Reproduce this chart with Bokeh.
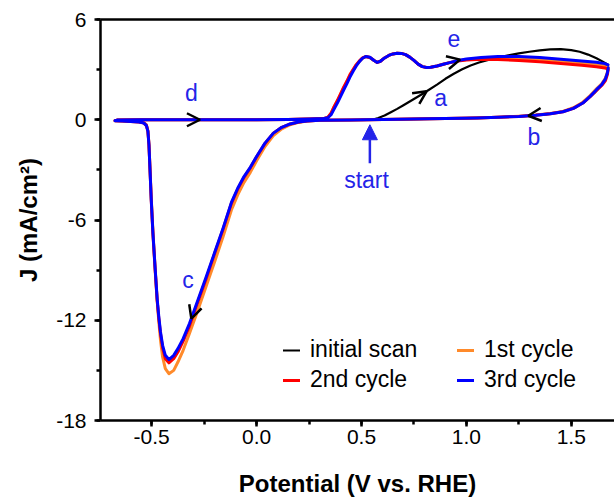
from bokeh.plotting import figure
from bokeh.models import (ColumnDataSource, Range1d, SingleIntervalTicker, FixedTicker,
                          LinearAxis, PrintfTickFormatter, Legend, LegendItem, Arrow,
                          OpenHead, NormalHead)
from bokeh.core.properties import value
from bokeh.embed import file_html
from bokeh.resources import INLINE

FONT = "Liberation Sans"
LABEL_BLUE = "#2424e8"

# ---- cyclic voltammetry data: potential (V vs. RHE) and current density (mA/cm2) ----
# initial scan: from the open-circuit start point up to the anodic vertex and back
initial_v = [0.55, 0.58, 0.61, 0.64, 0.67, 0.70, 0.74, 0.78, 0.82, 0.86, 0.90, 0.94, 0.98,
             1.02, 1.06, 1.10, 1.15, 1.20, 1.25, 1.30, 1.35, 1.40, 1.45, 1.50, 1.54, 1.58,
             1.62, 1.65, 1.675, 1.672, 1.66, 1.64, 1.61, 1.57, 1.52, 1.46, 1.38, 1.28, 1.15,
             1.0, 0.8, 0.6, 0.5]
initial_j = [0.0, 0.1, 0.25, 0.45, 0.65, 0.87, 1.17, 1.47, 1.78, 2.1, 2.45, 2.75, 3.02,
             3.25, 3.43, 3.57, 3.72, 3.85, 3.97, 4.07, 4.15, 4.21, 4.23, 4.17, 4.07, 3.9,
             3.68, 3.48, 3.3, 2.8, 2.4, 2.0, 1.6, 1.15, 0.75, 0.48, 0.33, 0.23, 0.15,
             0.1, 0.05, 0.01, 0.0]

# potentials of the full cycles: cathodic sweep from the upper vertex, then anodic sweep
cycle_v = [1.676, 1.672, 1.663, 1.645, 1.62, 1.59, 1.555, 1.51, 1.46, 1.40, 1.33, 1.25,
           1.15, 1.05, 0.90, 0.75, 0.60, 0.45,
           0.30, 0.24, 0.20, 0.16, 0.12, 0.08, 0.04, 0.00, -0.03, -0.06, -0.09, -0.12,
           -0.16, -0.20, -0.24, -0.28, -0.32,
           -0.35, -0.375, -0.395, -0.418, -0.435, -0.448, -0.458, -0.466, -0.474, -0.484,
           -0.494, -0.502, -0.508, -0.513,
           -0.518, -0.525, -0.537, -0.56, -0.60, -0.64, -0.675,
           -0.665, -0.55, -0.40, -0.20, 0.0, 0.15, 0.25, 0.32, 0.34, 0.355, 0.37, 0.385,
           0.40, 0.415, 0.43, 0.445, 0.46, 0.475, 0.49, 0.505, 0.52, 0.54, 0.56, 0.575,
           0.59, 0.61, 0.63, 0.65, 0.67, 0.69, 0.71, 0.73, 0.75, 0.77, 0.79, 0.81, 0.83,
           0.86, 0.89, 0.92, 0.96, 1.00, 1.07, 1.15, 1.25, 1.35, 1.45, 1.55, 1.62, 1.66,
           1.675]

cycle1_j = [3.15, 2.85, 2.5, 2.15, 1.85, 1.45, 1.05, 0.72, 0.5, 0.37, 0.28, 0.21,
            0.15, 0.11, 0.07, 0.04, 0.01, -0.01,
            -0.03, -0.08, -0.16, -0.3, -0.55, -0.95, -1.6, -2.45, -3.15, -3.75, -4.5, -5.4,
            -7.0, -8.5, -9.95, -11.4, -12.8,
            -13.8, -14.5, -15.0, -15.2, -14.9, -14.2, -13.2, -12.1, -10.8, -8.8,
            -6.7, -4.7, -2.9, -1.5,
            -0.65, -0.3, -0.18, -0.12, -0.1, -0.08, -0.06,
            -0.02, 0.0, 0.0, 0.0, 0.0, 0.02, 0.04, 0.07, 0.14, 0.38, 0.78, 1.12,
            1.5, 1.9, 2.25, 2.65, 2.97, 3.27, 3.5, 3.69, 3.78, 3.73, 3.55, 3.43,
            3.5, 3.7, 3.85, 3.94, 3.98, 3.97, 3.9, 3.75, 3.55, 3.33, 3.18, 3.13, 3.14,
            3.22, 3.32, 3.42, 3.53, 3.6, 3.66, 3.7, 3.68, 3.62, 3.52, 3.4, 3.3, 3.22,
            3.15]

cycle2_j = [3.0, 2.7, 2.35, 2.05, 1.75, 1.38, 1.0, 0.68, 0.48, 0.36, 0.27, 0.2,
            0.15, 0.11, 0.07, 0.04, 0.01, -0.01,
            -0.03, -0.07, -0.13, -0.25, -0.45, -0.8, -1.42, -2.22, -2.88, -3.45, -4.15, -5.0,
            -6.55, -8.0, -9.5, -10.9, -12.35,
            -13.25, -13.9, -14.3, -14.55, -14.3, -13.65, -12.8, -11.9, -10.8, -8.9,
            -6.85, -4.85, -3.0, -1.5,
            -0.7, -0.35, -0.2, -0.13, -0.1, -0.08, -0.06,
            -0.02, 0.0, 0.0, 0.0, 0.0, 0.02, 0.04, 0.07, 0.15, 0.4, 0.8, 1.15,
            1.55, 1.95, 2.3, 2.7, 3.0, 3.3, 3.52, 3.7, 3.78, 3.73, 3.55, 3.43,
            3.5, 3.7, 3.85, 3.94, 3.98, 3.97, 3.9, 3.75, 3.55, 3.33, 3.18, 3.13, 3.14,
            3.22, 3.32, 3.42, 3.52, 3.58, 3.62, 3.6, 3.55, 3.47, 3.37, 3.26, 3.17, 3.1,
            3.03]

cycle3_j = [3.1, 2.8, 2.45, 2.1, 1.8, 1.4, 1.0, 0.68, 0.48, 0.36, 0.27, 0.2,
            0.15, 0.11, 0.07, 0.04, 0.01, -0.01,
            -0.03, -0.07, -0.13, -0.25, -0.45, -0.8, -1.4, -2.2, -2.85, -3.4, -4.1, -4.95,
            -6.5, -7.95, -9.4, -10.8, -12.2,
            -13.1, -13.7, -14.1, -14.35, -14.1, -13.5, -12.7, -11.8, -10.7, -8.8,
            -6.8, -4.8, -3.0, -1.5,
            -0.7, -0.35, -0.2, -0.13, -0.1, -0.08, -0.06,
            -0.02, 0.0, 0.0, 0.0, 0.0, 0.02, 0.04, 0.07, 0.12, 0.3, 0.65, 1.0,
            1.38, 1.78, 2.15, 2.55, 2.9, 3.22, 3.48, 3.68, 3.79, 3.74, 3.55, 3.43,
            3.5, 3.7, 3.85, 3.94, 3.98, 3.97, 3.9, 3.75, 3.55, 3.33, 3.18, 3.13, 3.14,
            3.22, 3.32, 3.42, 3.55, 3.63, 3.72, 3.78, 3.78, 3.72, 3.62, 3.52, 3.44, 3.36,
            3.28]

series_names = ["initial scan", "1st cycle", "2nd cycle", "3rd cycle"]
series_colors = ["#000000", "#ff8a2a", "#ff0000", "#0000ff"]

# scan-direction arrowheads (tail -> tip)
arrow_tail_v = [-0.35, 0.755, 0.91, 1.37, -0.29]
arrow_tail_j = [0.0, 1.24, 3.42, 0.33, -11.1]
arrow_tip_v = [-0.27, 0.81, 0.97, 1.295, -0.311]
arrow_tip_j = [0.0, 1.7, 3.6, 0.24, -11.9]

# sweep labels
label_txt = ["a", "b", "c", "d", "e", "start"]
label_v = [0.877, 1.322, -0.327, -0.311, 0.94, 0.524]
label_j = [1.28, -1.03, -9.62, 1.59, 4.86, -3.6]

# start marker arrow
start_v = 0.54
start_j_from = -2.6
start_j_to = -0.3

p = figure(width=614, height=500,
           x_range=Range1d(-0.744, 1.706), y_range=Range1d(-18, 6),
           output_backend="svg", toolbar_location=None,
           min_border_left=100, min_border_right=0, min_border_top=19, min_border_bottom=80,
           x_axis_label="Potential (V vs. RHE)", y_axis_label="J (mA/cm\u00b2)")
p.xgrid.visible = False
p.ygrid.visible = False
p.outline_line_color = None
p.background_fill_color = "white"
p.border_fill_color = "white"

p.xaxis.ticker = SingleIntervalTicker(interval=0.5, num_minor_ticks=2)
p.xaxis.formatter = PrintfTickFormatter(format="%.1f")
p.yaxis.ticker = SingleIntervalTicker(interval=6, num_minor_ticks=2)
p.yaxis.formatter = PrintfTickFormatter(format="%d")

for ax in (p.xaxis[0], p.yaxis[0]):
    ax.axis_line_width = 2.5
    ax.axis_line_color = "black"
    ax.major_tick_line_width = 2.5
    ax.minor_tick_line_width = 2.5
    ax.major_tick_out = 6
    ax.major_tick_in = 0
    ax.minor_tick_out = 4
    ax.minor_tick_in = 0
    ax.major_label_text_font = FONT
    ax.major_label_text_font_size = "21px"
    ax.major_label_text_color = "black"
    ax.axis_label_text_font = FONT
    ax.axis_label_text_font_size = "24px"
    ax.axis_label_text_font_style = "bold"
    ax.axis_label_text_color = "black"

p.xaxis.major_label_standoff = 3
p.xaxis.axis_label_standoff = 23
p.yaxis.major_label_standoff = 8
p.yaxis.axis_label_standoff = 11

# plain top border line
top = LinearAxis(ticker=FixedTicker(ticks=[]), axis_line_width=2.5,
                 major_label_text_font_size="0px", major_tick_out=0, minor_tick_out=0)
p.add_layout(top, "above")

all_v = [initial_v, cycle_v, cycle_v, cycle_v]
all_j = [initial_j, cycle1_j, cycle2_j, cycle3_j]
widths = [2.2, 3, 3, 3]
renderers = []
for v, j, c, w in zip(all_v, all_j, series_colors, widths):
    src = ColumnDataSource(dict(v=v, j=j))
    renderers.append(p.line("v", "j", source=src, line_color=c, line_width=w,
                            line_join="round", line_cap="round"))

legend = Legend(items=[LegendItem(label=n, renderers=[r]) for n, r in zip(series_names, renderers)],
                ncols=2, orientation="horizontal", location=(183, 27),
                border_line_color=None, background_fill_alpha=0,
                padding=0, margin=0, spacing=3, label_width=144,
                glyph_width=17, glyph_height=20, label_standoff=10,
                label_text_font=FONT, label_text_font_size="23px", label_text_color="black")
p.add_layout(legend)

arrow_src = ColumnDataSource(dict(x0=arrow_tail_v, y0=arrow_tail_j, x1=arrow_tip_v, y1=arrow_tip_j))
p.add_layout(Arrow(end=OpenHead(size=13, line_width=2.5, line_color="black"),
                   x_start="x0", y_start="y0", x_end="x1", y_end="y1",
                   source=arrow_src, line_alpha=0))

p.add_layout(Arrow(end=NormalHead(size=15, fill_color=LABEL_BLUE, line_color=LABEL_BLUE),
                   x_start=start_v, y_start=start_j_from, x_end=start_v, y_end=start_j_to,
                   line_color=LABEL_BLUE, line_width=2.5))

label_src = ColumnDataSource(dict(v=label_v, j=label_j, t=label_txt))
p.text("v", "j", text="t", source=label_src, text_color=LABEL_BLUE,
       text_font=value(FONT), text_font_size="23px",
       text_align="center", text_baseline="alphabetic")

open("out.html", "w").write(file_html(p, INLINE))
